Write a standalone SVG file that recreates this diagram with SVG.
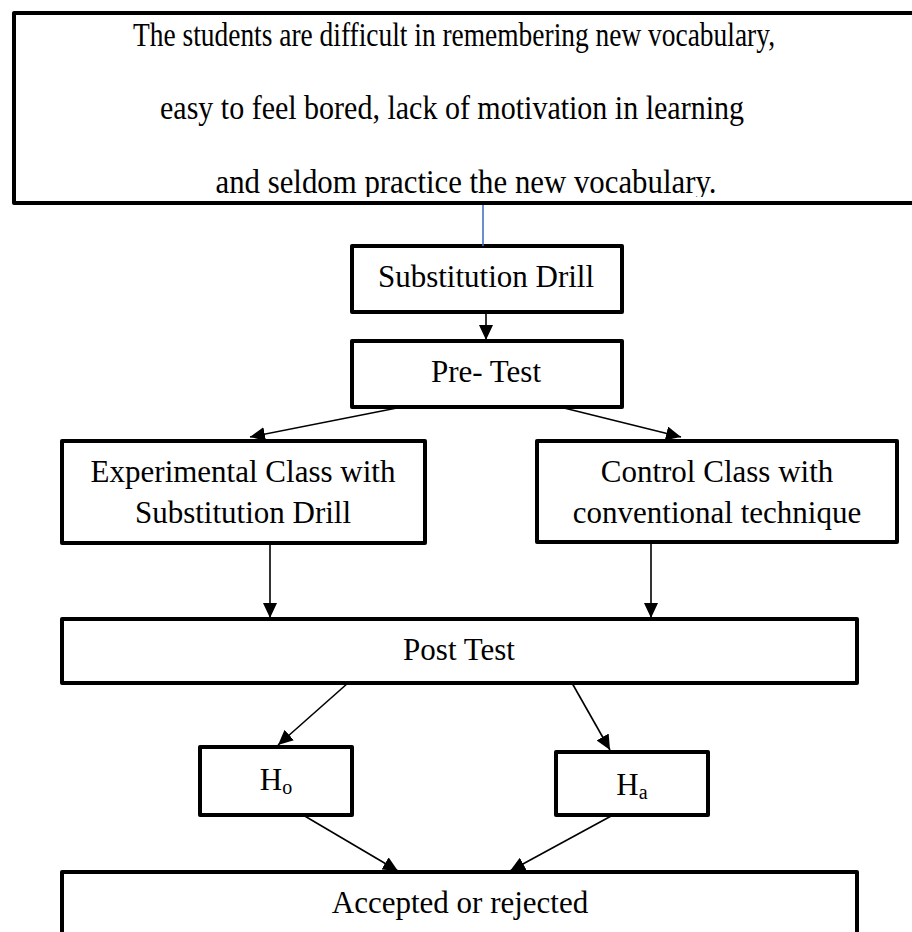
<svg xmlns="http://www.w3.org/2000/svg" width="912" height="932" viewBox="0 0 912 932">
<style>
.box{fill:#fff;stroke:#000;stroke-width:4;stroke-linejoin:round}
.t{font-family:"Liberation Serif","Times New Roman",serif;font-size:31px;fill:#000;text-anchor:middle}
.top{font-size:33px}
.sub{font-size:20px}
.c{stroke:#000;stroke-width:1.6;fill:none}
</style>
<defs>
<marker id="ah" markerUnits="userSpaceOnUse" markerWidth="16" markerHeight="14" refX="15" refY="7" orient="auto">
<path d="M0,0 L15,7 L0,14 Z" fill="#000"/>
</marker>
<clipPath id="topclip"><rect x="0" y="0" width="912" height="197"/></clipPath>
</defs>
<rect width="912" height="932" fill="#fff"/>
<g id="problem">
<rect class="box" x="14" y="13" width="920" height="190"/>
<g clip-path="url(#topclip)">
<text class="t top" x="454" y="46" textLength="642" lengthAdjust="spacingAndGlyphs">The students are difficult in remembering new vocabulary,</text>
<text class="t top" x="452" y="119" textLength="584" lengthAdjust="spacingAndGlyphs">easy to feel bored, lack of motivation in learning</text>
<text class="t top" x="466" y="193" textLength="501" lengthAdjust="spacingAndGlyphs">and seldom practice the new vocabulary.</text>
</g>
</g>
<g id="substitution">
<rect class="box" x="352" y="246" width="270" height="66"/>
<text class="t" x="486" y="287">Substitution Drill</text>
</g>
<g id="pretest">
<rect class="box" x="352" y="341" width="270" height="66"/>
<text class="t" x="486" y="382">Pre- Test</text>
</g>
<g id="experimental">
<rect class="box" x="62" y="441" width="363" height="102"/>
<text class="t" x="243" y="482">Experimental Class with</text>
<text class="t" x="243" y="523">Substitution Drill</text>
</g>
<g id="control">
<rect class="box" x="537" y="441" width="360" height="101"/>
<text class="t" x="717" y="482">Control Class with</text>
<text class="t" x="717" y="523">conventional technique</text>
</g>
<g id="posttest">
<rect class="box" x="62" y="619" width="795" height="64"/>
<text class="t" x="459" y="660">Post Test</text>
</g>
<g id="ho">
<rect class="box" x="200" y="747" width="152" height="68"/>
<text class="t" x="276" y="790">H<tspan class="sub" dy="4">o</tspan></text>
</g>
<g id="ha">
<rect class="box" x="556" y="752" width="152" height="63"/>
<text class="t" x="632" y="795">H<tspan class="sub" dy="4">a</tspan></text>
</g>
<g id="result">
<rect class="box" x="62" y="872" width="795" height="80"/>
<text class="t" x="460" y="913">Accepted or rejected</text>
</g>
<g id="connectors">
<line x1="483" y1="205" x2="483" y2="246" stroke="#4472C4" stroke-width="1.6"/>
<line class="c" x1="486" y1="312" x2="486" y2="340" marker-end="url(#ah)"/>
<line class="c" x1="402" y1="407" x2="250" y2="437" marker-end="url(#ah)"/>
<line class="c" x1="560" y1="407" x2="681" y2="437" marker-end="url(#ah)"/>
<line class="c" x1="270" y1="543" x2="270" y2="618" marker-end="url(#ah)"/>
<line class="c" x1="651" y1="543" x2="651" y2="618" marker-end="url(#ah)"/>
<line class="c" x1="348" y1="683" x2="278" y2="745" marker-end="url(#ah)"/>
<line class="c" x1="572" y1="683" x2="610" y2="750" marker-end="url(#ah)"/>
<line class="c" x1="303" y1="815" x2="398" y2="871" marker-end="url(#ah)"/>
<line class="c" x1="613" y1="815" x2="510" y2="871" marker-end="url(#ah)"/>
</g>
</svg>
